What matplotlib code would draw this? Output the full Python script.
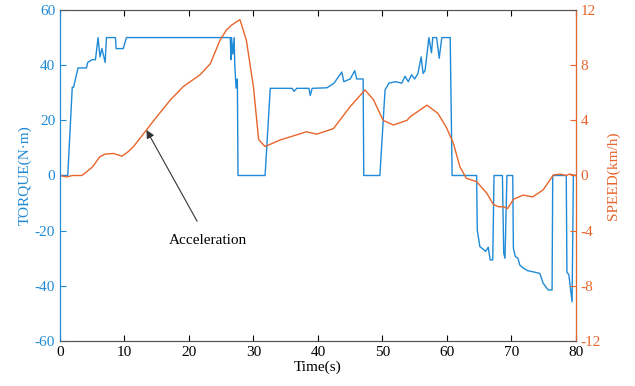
import numpy as np
import matplotlib
matplotlib.use("Agg")
from matplotlib import pyplot as plt

# torque trace (N.m)
t_torque = [0, 1.2, 1.9, 2.1, 2.8, 4.1, 4.3, 5.0, 5.5, 5.9, 6.2, 6.5, 7.0, 7.2,
            8.6, 8.7, 9.8, 10.3, 26.4, 26.5, 26.6, 26.8, 27.0, 27.1, 27.3, 27.5,
            27.6, 31.8, 32.6, 36.0, 36.3, 36.7, 38.6, 38.8, 39.1, 41.4, 42.5,
            43.7, 44.0, 45.0, 45.7, 46.0, 47.0, 47.1, 49.6, 50.4, 51.0, 52.0,
            53.0, 53.5, 54.0, 54.5, 55.0, 55.5, 56.0, 56.3, 56.6, 57.2, 57.6,
            57.8, 58.4, 58.8, 59.2, 60.5, 60.8, 64.6, 64.7, 65.1, 65.5, 66.0,
            66.4, 66.7, 67.1, 67.3, 68.6, 68.8, 69.0, 69.3, 70.2, 70.3, 70.6,
            71.0, 71.3, 71.8, 72.5, 73.5, 74.4, 74.9, 75.7, 76.3, 76.4, 78.5,
            78.6, 78.9, 79.4, 79.6, 80]
torque = [0, 0, 32, 32, 39, 39, 41, 42, 42, 50, 43, 46, 41, 50,
          50, 46, 46, 50, 50, 42, 50, 44, 50, 40, 31.7, 35,
          0, 0, 31.6, 31.6, 30.5, 31.6, 31.6, 29, 31.6, 31.8, 33.5,
          37.5, 34, 35, 38, 35, 35, 0, 0, 31, 33.5, 34,
          33.5, 36, 34, 36.5, 35, 37, 43, 37, 38, 50, 44.5,
          50, 50, 42.5, 50, 50, 0, 0, -19.8, -25.8, -26.5, -27.5,
          -26, -30.6, -30.6, 0, 0, -28.2, -30, 0, 0, -26.4, -29.4,
          -30, -32.5, -33.5, -34.5, -35, -35.5, -39, -41.5, -41.5, 0, 0,
          -35, -36, -45.8, 0, 0]

# speed trace (km/h)
t_speed = [0, 1.0, 2.0, 3.4, 5.0, 6.2, 7.0, 8.3, 9.6, 10.5, 11.4, 13.4, 15.0,
           17.1, 19.1, 21.7, 23.3, 24.8, 25.8, 26.6, 27.4, 27.9, 28.9, 30.0,
           30.8, 31.8, 34.1, 36.7, 38.2, 39.8, 42.4, 45.0, 47.3, 48.6, 50.1,
           51.7, 53.8, 54.3, 56.9, 58.6, 59.9, 61.0, 62.0, 63.0, 64.6, 66.2,
           67.2, 68.0, 68.8, 69.4, 70.3, 71.8, 73.3, 74.9, 76.5, 77.5, 78.5,
           79.0, 80]
speed = [0, -0.1, 0, 0, 0.6, 1.37, 1.55, 1.6, 1.4, 1.7, 2.1, 3.3, 4.26,
         5.47, 6.44, 7.3, 8.1, 9.8, 10.55, 10.9, 11.15, 11.3, 9.8, 6.4,
         2.6, 2.1, 2.57, 2.95, 3.17, 3.0, 3.4, 5.0, 6.2, 5.5, 4.0,
         3.66, 4.0, 4.26, 5.1, 4.5, 3.5, 2.33, 0.64, -0.2, -0.45, -1.3,
         -2.1, -2.27, -2.27, -2.4, -1.73, -1.42, -1.55, -1.05, 0.04, 0.1, 0.0,
         0.1, 0.0]

xticks = [0, 10, 20, 30, 40, 50, 60, 70, 80]
torque_ticks = [-60, -40, -20, 0, 20, 40, 60]
speed_ticks = [-12, -8, -4, 0, 4, 8, 12]

blue = '#1f8ad6'
orange = '#e8652c'

plt.rcParams['font.family'] = ['Liberation Serif', 'DejaVu Serif']
plt.rcParams['font.size'] = 11
plt.rcParams['axes.unicode_minus'] = False

fig = plt.figure(figsize=(6.35, 3.86), dpi=100)
ax = fig.add_axes([0.0945, 0.1166, 0.8125, 0.8575])
ax.plot(t_torque, torque, color=blue, lw=1.0)
ax.set_xlim(0, 80)
ax.set_ylim(-60, 60)
ax.set_xticks(xticks)
ax.set_yticks(torque_ticks)
ax.tick_params(direction='in', length=4, top=True)
ax.tick_params(axis='y', colors=blue)
ax.set_xlabel('Time(s)', labelpad=1)
ax.set_ylabel('TORQUE(N·m)', color=blue, labelpad=2)
for s in ['top', 'bottom']:
    ax.spines[s].set_color('#555555')
ax.spines['left'].set_color(blue)

ax2 = ax.twinx()
ax2.plot(t_speed, speed, color=orange, lw=1.0)
ax2.set_ylim(-12, 12)
ax2.set_yticks(speed_ticks)
ax2.tick_params(direction='in', length=4, colors=orange)
ax2.set_ylabel('SPEED(km/h)', color=orange, labelpad=4)
ax2.spines['right'].set_color(orange)
ax2.spines['left'].set_color(blue)
for s in ['top', 'bottom']:
    ax2.spines[s].set_color('#555555')

ax2.annotate('Acceleration', xy=(13.4, 3.3), xytext=(22.9, -4.7),
             ha='center', va='center', fontsize=11,
             arrowprops=dict(arrowstyle='-|>', color='#333333', lw=0.8,
                             shrinkA=8, shrinkB=0, mutation_scale=12))

fig.savefig('out.png', dpi=100)
